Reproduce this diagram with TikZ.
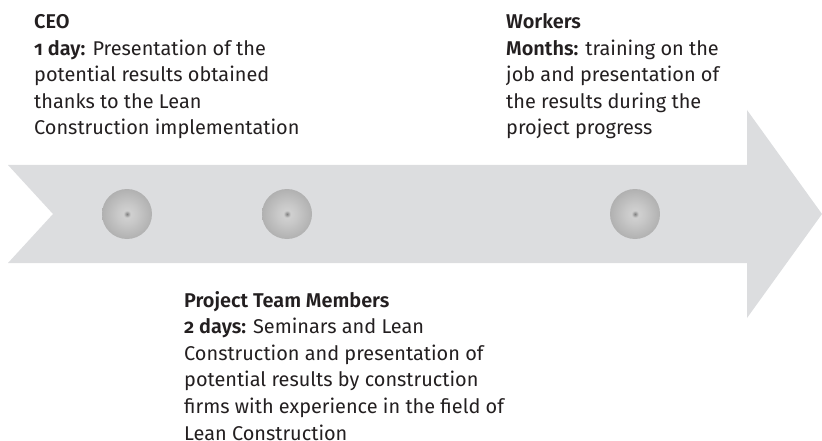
\documentclass[tikz,border=0pt]{standalone}
\usepackage{fontspec}
\setmainfont{Fira Sans}[Numbers=OldStyle, BoldFont={Fira Sans SemiBold}]
\definecolor{bandgray}{HTML}{DCDDDF}
\definecolor{txt}{HTML}{231F20}
\definecolor{ballA}{HTML}{808080}
\definecolor{ballB}{HTML}{A2A2A2}
\definecolor{ballC}{HTML}{D0D0D0}
\definecolor{ballD}{HTML}{C8C8C8}
\definecolor{ballF}{HTML}{A6A6A6}
\definecolor{ballE}{HTML}{868686}
\pgfdeclareradialshading{ballshade}{\pgfpoint{0bp}{0bp}}{color(0bp)=(ballA); color(1.5bp)=(ballB); color(3.5bp)=(ballC); color(10bp)=(ballD); color(32bp)=(ballF); color(50bp)=(ballE)}
\begin{document}
\begin{tikzpicture}[x=1pt,y=-1pt,
  label text/.style={anchor=base west, inner sep=0pt, text=txt,
    font=\fontsize{19.9}{26.6}\selectfont},
  ball/.style={circle, minimum size=50pt, inner sep=0pt, shading=ballshade}]
\useasboundingbox (0,0) rectangle (822,441);
% timeline arrow
\fill[bandgray] (8,165) -- (747,165) -- (747,110) -- (822,214) -- (747,318)
  -- (747,263) -- (8,263) -- (53,214) -- cycle;
% milestones
\node[ball] (m1) at (127,214) {};
\node[ball] (m2) at (287,214) {};
\node[ball] (m3) at (635,214) {};
% texts
\node[label text] (ceo) at (34,28.5) {\begin{tabular}[t]{@{}l@{}}
\textbf{CEO}\\
\textbf{1 day:} Presentation of the\\
potential results obtained\\
thanks to the Lean\\
Construction implementation\end{tabular}};
\node[label text] (workers) at (506,28.5) {\begin{tabular}[t]{@{}l@{}}
\textbf{Workers}\\
\textbf{Months:} training on the\\
job and presentation of\\
the results during the\\
project progress\end{tabular}};
\node[label text] (team) at (184,307) {\begin{tabular}[t]{@{}l@{}}
\textbf{Project Team Members}\\
\textbf{2 days:} Seminars and Lean\\
Construction and presentation of\\
potential results by construction\\
firms with experience in the field of\\
Lean Construction\end{tabular}};
\end{tikzpicture}
\end{document}
